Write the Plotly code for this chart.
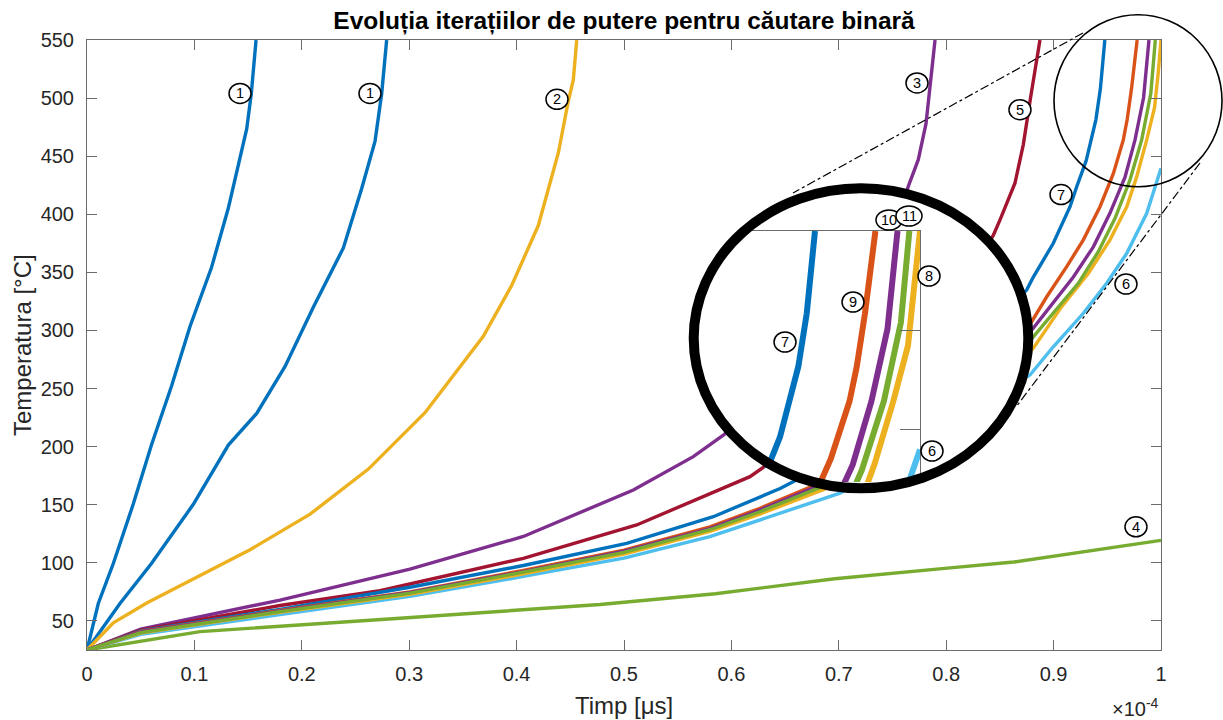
import plotly.graph_objects as go

# ---------------- data (time in units of 1e-4 s, temperature in °C) ----------------
t_1a = [0, 0.0105, 0.0245, 0.043, 0.060, 0.0788, 0.0959, 0.116, 0.1316, 0.144, 0.1487, 0.153, 0.1574]
T_1a = [25, 65, 99.4, 150.4, 201.4, 252.4, 303.4, 354.4, 405.4, 456.5, 473.5, 504, 550]

t_1b = [0, 0.0307, 0.060, 0.099, 0.1316, 0.158, 0.1844, 0.2107, 0.2387, 0.2557, 0.2682, 0.2744, 0.279]
T_1b = [25, 65, 99.4, 150.4, 201.4, 228.6, 269, 320, 371, 422, 463, 504, 550]

t_2 = [0, 0.0245, 0.0556, 0.1518, 0.2077, 0.262, 0.3147, 0.369, 0.3954, 0.4202, 0.4389, 0.448, 0.4528, 0.456]
T_2 = [25, 48.4, 65.4, 111.3, 141.9, 180.7, 229.2, 294.9, 338.7, 390.3, 453, 496.8, 515.6, 550]

t_3 = [0, 0.05, 0.1797, 0.3007, 0.4063, 0.5087, 0.5645, 0.5925, 0.64, 0.69, 0.73, 0.755, 0.7647, 0.774, 0.7812, 0.785, 0.7896]
T_3 = [25, 43, 68, 94.6, 122.7, 162.7, 191.4, 210, 245, 290, 345, 395, 424, 447, 478, 513, 550]

t_4 = [0, 0.1052, 0.2914, 0.4777, 0.5851, 0.6962, 0.7962, 0.8629, 1.0]
T_4 = [25, 40.8, 52.3, 64.2, 73.4, 86.3, 95, 100.7, 119.4]

t_5 = [0, 0.05, 0.1797, 0.2728, 0.4063, 0.5118, 0.6173, 0.6328, 0.68, 0.73, 0.78, 0.82, 0.8439, 0.85, 0.864, 0.8718, 0.8785, 0.8835, 0.8873]
T_5 = [25, 42, 63.3, 76, 103.9, 132.6, 174.2, 184.2, 210, 245, 295, 345, 382, 395, 426.7, 460, 500, 530, 550]

t_6 = [0, 0.05, 0.1797, 0.3007, 0.4063, 0.5, 0.58, 0.6266, 0.7011, 0.75, 0.80, 0.84, 0.878, 0.8997, 0.9277, 0.9494, 0.9681, 0.9867, 1.0]
T_6 = [25, 38.5, 55.5, 71.1, 88.3, 104, 122.5, 137, 160, 185, 213, 240, 261.7, 286, 314.8, 340.6, 366.4, 400.8, 439.6]

t_7 = [0, 0.05, 0.1797, 0.3007, 0.4063, 0.5025, 0.5832, 0.6453, 0.70, 0.75, 0.80, 0.84, 0.875, 0.8811, 0.8997, 0.9153, 0.9215, 0.9303, 0.9394, 0.9436, 0.9477]
T_7 = [25, 41.5, 60, 79, 97.7, 116.8, 139.7, 164, 190, 220, 257, 300, 335, 346, 375, 406.5, 423.7, 446, 481.5, 508.4, 550]

t_8 = [0, 0.05, 0.1797, 0.3007, 0.4063, 0.5, 0.58, 0.6266, 0.6856, 0.74, 0.79, 0.84, 0.8811, 0.9075, 0.9323, 0.9525, 0.9681, 0.9774, 0.9867, 0.994, 0.9973, 1.0]
T_8 = [25, 39.5, 57.5, 73, 90.5, 107.5, 127, 142, 163, 186, 212, 246, 284.7, 320.5, 349, 378, 406.5, 432.4, 464, 492, 520.5, 550]

t_9 = [0, 0.05, 0.1797, 0.3007, 0.4063, 0.5, 0.58, 0.6266, 0.6856, 0.74, 0.79, 0.84, 0.8796, 0.8936, 0.9122, 0.9277, 0.9432, 0.9556, 0.9649, 0.9685, 0.9726, 0.9778]
T_9 = [25, 41, 59, 75, 93.5, 111, 131, 147, 170, 198, 230, 270, 307.6, 329, 355, 378, 406.5, 435, 464, 481.5, 508.4, 550]

t_10 = [0, 0.05, 0.1797, 0.3007, 0.4063, 0.5, 0.58, 0.6266, 0.6856, 0.74, 0.79, 0.84, 0.8811, 0.8966, 0.9184, 0.937, 0.9525, 0.9665, 0.9758, 0.9838, 0.9888]
T_10 = [25, 40.5, 58.5, 74.5, 92.5, 110, 129.5, 145.5, 168, 195, 225, 263, 302, 320.5, 346, 372, 401, 432, 464, 500.5, 550]

t_11 = [0, 0.05, 0.1797, 0.3007, 0.4063, 0.5, 0.58, 0.6266, 0.6856, 0.74, 0.79, 0.84, 0.8811, 0.8997, 0.923, 0.9416, 0.9572, 0.9711, 0.982, 0.9905, 0.9947]
T_11 = [25, 40, 58, 74, 92, 109, 128.5, 144, 166, 192, 220, 256, 294.6, 314.8, 340.6, 367.8, 396.5, 429.5, 464, 503.9, 550]

x_tickvals = [0, 0.1, 0.2, 0.3, 0.4, 0.5, 0.6, 0.7, 0.8, 0.9, 1.0]
x_ticktext = ["0", "0.1", "0.2", "0.3", "0.4", "0.5", "0.6", "0.7", "0.8", "0.9", "1"]
y_tickvals = [50, 100, 150, 200, 250, 300, 350, 400, 450, 500, 550]

# curve labels on the main axes: (text, t, T)
main_labels = [("1", 0.1425, 504), ("1", 0.2635, 504), ("2", 0.4376, 499), ("3", 0.7728, 513),
               ("5", 0.8687, 490), ("7", 0.9069, 417), ("6", 0.9674, 340), ("4", 0.9767, 131)]
# labels inside the magnifier (pixel positions)
inset_labels = [("10", 889, 220), ("11", 909, 216), ("8", 929, 276), ("9", 853, 302),
                ("7", 785, 342), ("6", 932, 451)]

# ---------------- styling ----------------
BLUE, ORANGE, YELLOW, PURPLE, GREEN, LBLUE, DRED = (
    "#0072BD", "#D95319", "#EDB120", "#7E2F8E", "#77AC30", "#4DBEEE", "#A2142F")

series = [
    (t_1a, T_1a, BLUE), (t_1b, T_1b, BLUE), (t_2, T_2, YELLOW), (t_3, T_3, PURPLE),
    (t_4, T_4, GREEN), (t_5, T_5, DRED), (t_6, T_6, LBLUE), (t_7, T_7, BLUE),
    (t_8, T_8, YELLOW), (t_9, T_9, ORANGE), (t_10, T_10, PURPLE), (t_11, T_11, GREEN),
]
inset_series = [(t_6, T_6, LBLUE), (t_9, T_9, ORANGE),
                (t_10, T_10, PURPLE), (t_11, T_11, GREEN), (t_8, T_8, YELLOW)]
inset_series_left = [(t_7, T_7, BLUE)]   # drawn in a shorter copy of the inset (ring is higher there)

W, H = 1223, 720
L, R, TOP, BOT = 87, 1161, 40, 650
PW, PH = R - L, BOT - TOP


def pxx(px):
    return (px - L) / PW


def pxy(py):
    return (BOT - py) / PH


AX = "#6b6b6b"
TXT = "#262626"
FONT = "Liberation Sans, Arial, sans-serif"

fig = go.Figure()

for t, T, c in series:
    fig.add_trace(go.Scatter(x=t, y=T, mode="lines", line=dict(color=c, width=3.4),
                             xaxis="x", yaxis="y", showlegend=False, hoverinfo="skip"))

# invisible trace that creates the white disc subplot
fig.add_trace(go.Scatter(x=[0.5], y=[0.5], mode="markers", marker=dict(opacity=0),
                         xaxis="x2", yaxis="y2", showlegend=False, hoverinfo="skip"))

for t, T, c in inset_series:
    fig.add_trace(go.Scatter(x=t, y=T, mode="lines", line=dict(color=c, width=6),
                             xaxis="x3", yaxis="y3", showlegend=False, hoverinfo="skip"))
for t, T, c in inset_series_left:
    fig.add_trace(go.Scatter(x=t, y=T, mode="lines", line=dict(color=c, width=6),
                             xaxis="x4", yaxis="y4", showlegend=False, hoverinfo="skip"))

# magnifier geometry (pixels)
cx, cy, rx, ry = 861, 338.3, 167.3, 150
sx, sy, srx, sry = 1138, 100.8, 84, 86
ix0, ix1, iy_top, iy_bot, iy_bot_left = 745, 920, 231, 482, 468
inset_xmag = 2008.0   # px per 1e-4 s
inset_ymag = 1.98     # px per °C

axis_common = dict(showgrid=False, zeroline=False, showline=True, linecolor=AX, linewidth=1,
                   ticks="inside", ticklen=10, tickwidth=1, tickcolor=AX, mirror="ticks",
                   tickfont=dict(family=FONT, size=20, color=TXT))

xr3 = [1 - (ix1 - ix0) / inset_xmag, 1.0]

fig.update_layout(
    width=W, height=H,
    margin=dict(l=L, r=W - R, t=TOP, b=H - BOT),
    paper_bgcolor="white", plot_bgcolor="rgba(0,0,0,0)",
    showlegend=False,
    title=dict(text="Evoluția iterațiilor de putere pentru căutare binară",
               x=pxx(624), xref="paper", xanchor="center",
               y=1 - 20 / H, yref="container", yanchor="middle",
               font=dict(family=FONT, size=24.5, color="black", weight="bold")),
    xaxis=dict(domain=[0, 1], range=[0, 1], tickvals=x_tickvals, ticktext=x_ticktext,
               anchor="y", ticklabelstandoff=6, **axis_common),
    yaxis=dict(domain=[0, 1], range=[25, 550], tickvals=y_tickvals,
               anchor="x", ticklabelstandoff=8, **axis_common),
    xaxis2=dict(domain=[pxx(cx - rx), pxx(cx + rx)], range=[0, 1], visible=False, anchor="y2"),
    yaxis2=dict(domain=[pxy(cy + ry), pxy(cy - ry)], range=[0, 1], visible=False, anchor="x2"),
    xaxis3=dict(domain=[pxx(ix0), pxx(ix1)], range=xr3, side="top", anchor="y3",
                showline=True, linecolor=AX, linewidth=1.3, ticks="", showticklabels=False,
                showgrid=False, zeroline=False),
    yaxis3=dict(domain=[pxy(iy_bot), pxy(iy_top)],
                range=[550 - (iy_bot - iy_top) / inset_ymag, 550], side="right", anchor="x3",
                showline=True, linecolor=AX, linewidth=1.3, ticks="inside", ticklen=20,
                tickwidth=1.3, tickcolor=AX, tickvals=[450, 500], showticklabels=False,
                showgrid=False, zeroline=False),
    xaxis4=dict(domain=[pxx(ix0), pxx(ix1)], range=xr3, visible=False, anchor="y4"),
    yaxis4=dict(domain=[pxy(iy_bot_left), pxy(iy_top)],
                range=[550 - (iy_bot_left - iy_top) / inset_ymag, 550], visible=False, anchor="x4"),
)

shapes = []
# white disc of the magnifier (drawn in subplot 2, above main curves, below inset curves)
shapes.append(dict(type="circle", xref="x2", yref="y2", x0=0, x1=1, y0=0, y1=1,
                   fillcolor="white", line=dict(width=0), layer="below"))
# thick ring
shapes.append(dict(type="circle", xref="paper", yref="paper",
                   x0=pxx(cx - rx), x1=pxx(cx + rx), y0=pxy(cy + ry), y1=pxy(cy - ry),
                   line=dict(color="black", width=10), layer="above"))
# small circle on the region being magnified
shapes.append(dict(type="circle", xref="paper", yref="paper",
                   x0=pxx(sx - srx), x1=pxx(sx + srx), y0=pxy(sy + sry), y1=pxy(sy - sry),
                   line=dict(color="black", width=1.6), layer="above"))
# dash-dot connector lines
shapes.append(dict(type="line", xref="paper", yref="paper",
                   x0=pxx(1083), y0=pxy(33), x1=pxx(793), y1=pxy(193),
                   line=dict(color="black", width=1.2, dash="dashdot"), layer="above"))
shapes.append(dict(type="line", xref="paper", yref="paper",
                   x0=pxx(1200), y0=pxy(163), x1=pxx(1016), y1=pxy(407),
                   line=dict(color="black", width=1.2, dash="dashdot"), layer="above"))

annotations = []
LBL_FONT = dict(family=FONT, size=14.5, color="black")
for txt, t, T in main_labels:
    shapes.append(dict(type="circle", xref="x", yref="y", xsizemode="pixel", ysizemode="pixel",
                       xanchor=t, yanchor=T, x0=-11, x1=11, y0=-10, y1=10,
                       fillcolor="white", line=dict(color="black", width=1.5), layer="above"))
    annotations.append(dict(text=txt, x=t, y=T, xref="x", yref="y", showarrow=False,
                            font=LBL_FONT, xanchor="center", yanchor="middle"))
for txt, px, py in inset_labels:
    hw = 13 if len(txt) > 1 else 11
    shapes.append(dict(type="circle", xref="paper", yref="paper", xsizemode="pixel",
                       ysizemode="pixel", xanchor=pxx(px), yanchor=pxy(py),
                       x0=-hw, x1=hw, y0=-10, y1=10,
                       fillcolor="white", line=dict(color="black", width=1.5), layer="above"))
    annotations.append(dict(text=txt, x=pxx(px), y=pxy(py), xref="paper", yref="paper",
                            showarrow=False, font=LBL_FONT, xanchor="center", yanchor="middle"))

# axis titles and exponent
annotations.append(dict(text="Timp [μs]", x=0.5, y=pxy(705), xref="paper", yref="paper",
                        showarrow=False, font=dict(family=FONT, size=24, color=TXT),
                        xanchor="center", yanchor="middle"))
annotations.append(dict(text="Temperatura [°C]", x=pxx(22), y=0.5, xref="paper", yref="paper",
                        showarrow=False, textangle=-90, font=dict(family=FONT, size=24, color=TXT),
                        xanchor="center", yanchor="middle"))
annotations.append(dict(text="×10<sup>-4</sup>", x=1.0, y=pxy(707), xref="paper", yref="paper",
                        showarrow=False, font=dict(family=FONT, size=20, color=TXT),
                        xanchor="right", yanchor="middle"))

fig.update_layout(shapes=shapes, annotations=annotations)
fig.write_html("out.html", config={"displayModeBar": False},
               post_script="document.body.style.margin='0px';document.body.style.overflow='hidden';")
